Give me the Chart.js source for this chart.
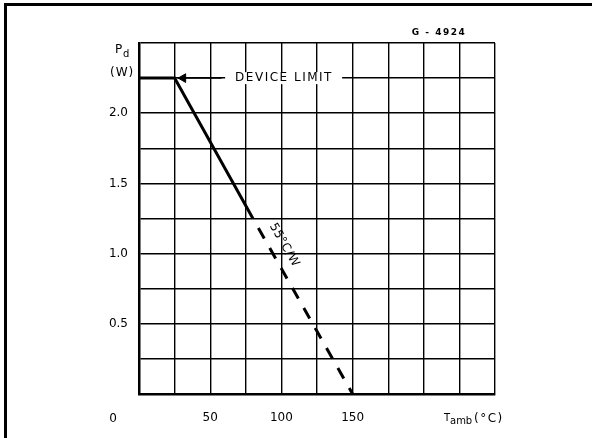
<!DOCTYPE html>
<html>
<head>
<meta charset="utf-8">
<script src="https://cdn.jsdelivr.net/npm/chart.js@4.4.1/dist/chart.umd.min.js"></script>
<style>
  html, body { margin: 0; padding: 0; background: #fff; }
  #wrap { position: relative; width: 592px; height: 438px; }
  #frame {
    position: absolute; left: 4px; top: 3px; right: 0; bottom: 0;
    border-top: 3px solid #000; border-left: 3px solid #000;
    pointer-events: none;
  }
</style>
</head>
<body>
<div id="wrap">
  <canvas id="deratingCanvas" width="592" height="438"></canvas>
  <div id="frame"></div>
</div>
<script>
  // derating curve: device limit, then 55 C/W down to zero
  const tempC = [0, 25, 80, 150];
  const powerW = [2.25, 2.25, 1.25, 0];

  // arrow next to "DEVICE LIMIT"
  const arrowT = [27, 58];
  const arrowW = [2.25, 2.25];
  const arrowHeadT = [31];

  const xTickValues = [50, 100, 150];
  const yTickValues = [0.5, 1.0, 1.5, 2.0];

  const FONT = 'DejaVu Sans';

  const pts = (xs, ys) => xs.map((x, i) => ({ x: x, y: ys[i] }));

  const textPlugin = {
    id: 'textPlugin',
    afterDraw(chart) {
      const c = chart.ctx;
      const xs = chart.scales.x, ys = chart.scales.y;
      c.save();
      c.fillStyle = '#000';
      c.textBaseline = 'alphabetic';

      // "0" sits left of the axis corner
      c.font = '12px ' + FONT;
      c.textAlign = 'center';
      c.fillText('0', xs.getPixelForValue(0) - 26, 422);

      // Pd (W)
      c.textAlign = 'left';
      c.font = '12px ' + FONT;
      c.fillText('P', 115, 53);
      c.font = '10px ' + FONT;
      c.fillText('d', 123, 57);
      c.font = '12px ' + FONT;
      c.letterSpacing = '1px';
      c.fillText('(W)', 110, 76);

      // Tamb(°C)
      c.letterSpacing = '0px';
      c.font = '10px ' + FONT;
      c.fillText('T', 444, 421);
      c.fillText('amb', 450, 424);
      c.font = '12px ' + FONT;
      c.letterSpacing = '1.5px';
      c.fillText('(°C)', 474, 422);

      // figure code
      c.letterSpacing = '1.5px';
      c.font = 'bold 9px ' + FONT;
      c.textAlign = 'center';
      c.fillText('G - 4924', 439, 35);

      // DEVICE LIMIT, the grid is broken behind it
      const ly = ys.getPixelForValue(2.25);
      const lx = xs.getPixelForValue(67.5);
      c.fillStyle = '#fff';
      c.fillRect(lx - 10, ly - 6, 117, 12);
      c.fillStyle = '#000';
      c.letterSpacing = '1.5px';
      c.font = '12px ' + FONT;
      c.textAlign = 'left';
      c.textBaseline = 'middle';
      c.fillText('DEVICE LIMIT', lx, ly);

      // slope label along the dashed part
      c.letterSpacing = '0.5px';
      c.translate(xs.getPixelForValue(102), ys.getPixelForValue(1.06));
      c.rotate(60 * Math.PI / 180);
      c.textAlign = 'center';
      c.fillText('55°C/W', 0, 0);
      c.restore();
    }
  };

  new Chart(document.getElementById('deratingCanvas').getContext('2d'), {
    type: 'scatter',
    data: {
      datasets: [
        {
          data: pts(tempC, powerW),
          showLine: true,
          borderColor: '#000',
          borderWidth: 3,
          pointRadius: 0,
          segment: {
            borderDash: ctx => ctx.p0DataIndex === 2 ? [12, 11] : undefined,
            borderDashOffset: ctx => ctx.p0DataIndex === 2 ? 12 : undefined
          }
        },
        {
          data: pts(arrowT, arrowW),
          showLine: true,
          borderColor: '#000',
          borderWidth: 1.5,
          pointRadius: 0
        },
        {
          data: pts(arrowHeadT, [2.25]),
          showLine: false,
          pointStyle: 'triangle',
          rotation: 270,
          pointRadius: 5,
          backgroundColor: '#000',
          borderColor: '#000',
          borderWidth: 1
        }
      ]
    },
    options: {
      responsive: false,
      animation: false,
      layout: { padding: { left: 0, top: 43, right: 97, bottom: 0 } },
      plugins: { legend: { display: false }, tooltip: { enabled: false } },
      scales: {
        x: {
          type: 'linear',
          min: 0,
          max: 250,
          afterFit: s => { s.height = 44; },
          border: { color: '#000', width: 2.5 },
          grid: { color: '#000', lineWidth: 1.4, drawTicks: false },
          ticks: {
            stepSize: 25,
            autoSkip: false,
            maxRotation: 0,
            padding: 17,
            color: '#000',
            font: { family: FONT, size: 12 },
            callback: v => xTickValues.includes(v) ? String(v) : ''
          }
        },
        y: {
          type: 'linear',
          min: 0,
          max: 2.5,
          afterFit: s => { s.width = 139; },
          border: { color: '#000', width: 2.5 },
          grid: { color: '#000', lineWidth: 1.4, drawTicks: false },
          ticks: {
            stepSize: 0.25,
            autoSkip: false,
            padding: 11,
            color: '#000',
            font: { family: FONT, size: 12 },
            callback: v => yTickValues.some(t => Math.abs(t - v) < 1e-6) ? v.toFixed(1) : ''
          }
        }
      }
    },
    plugins: [textPlugin]
  });
</script>
</body>
</html>
